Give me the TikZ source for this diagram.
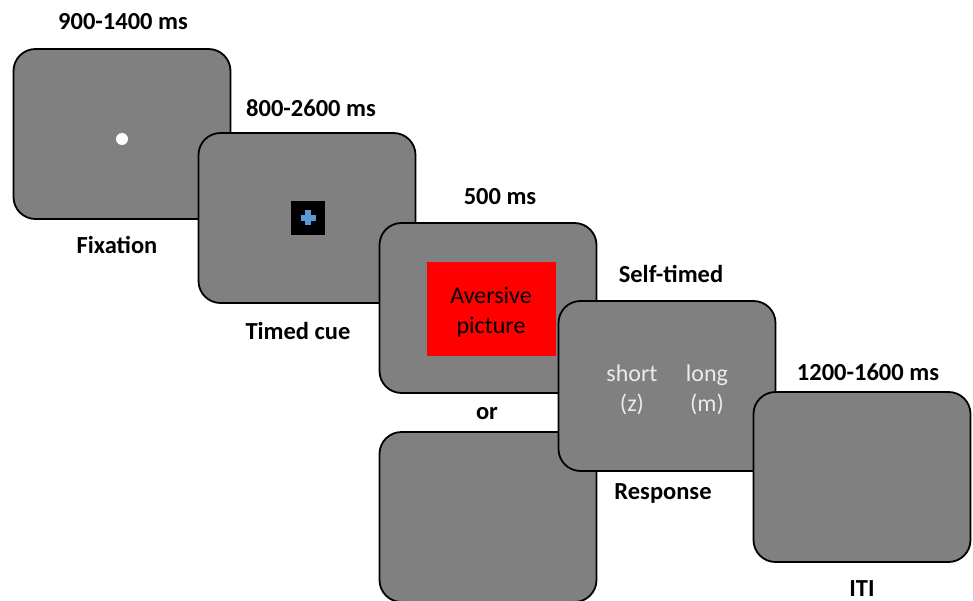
\documentclass[tikz,border=0pt]{standalone}
\usepackage{fontspec}
\setmainfont{Carlito}
\begin{document}
\begin{tikzpicture}[x=1pt,y=-1pt,
  screen/.style={draw=black,line width=1.8pt,fill=scrgrey,rounded corners=22pt,
    minimum width=217pt,minimum height=170pt,inner sep=0pt},
  lbl/.style={font=\fontsize{24.5}{28}\selectfont\bfseries,inner sep=0pt,text=black,
    text height=17pt,text depth=5pt},
  intext/.style={font=\fontsize{24}{28}\selectfont,inner sep=0pt,
    text height=17pt,text depth=5pt}]
\definecolor{scrgrey}{RGB}{128,128,128}
\definecolor{cueblue}{RGB}{91,155,213}
\definecolor{lighttext}{RGB}{235,235,235}
\useasboundingbox (0,0) rectangle (973,601);
% screens
\node[screen] (s1) at (122,134) {};
\node[screen] (s2) at (307,218) {};
\node[screen] (s3) at (488,308) {};
\node[screen] (s4) at (488,517) {};
\node[screen] (s5) at (667,386) {};
\node[screen] (s6) at (862,477) {};
% fixation dot
\node[circle,fill=white,minimum size=12pt,inner sep=0pt] (dot) at (122,139) {};
% cue
\node[fill=black,minimum size=34pt,inner sep=0pt] (cuebox) at (308,218) {};
\node[fill=cueblue,minimum width=6pt,minimum height=15pt,inner sep=0pt] (cv) at (308,218) {};
\node[fill=cueblue,minimum width=15pt,minimum height=6pt,inner sep=0pt] (ch) at (308,218) {};
% aversive picture
\node[fill=red,minimum width=129pt,minimum height=94pt,inner sep=0pt] (pic) at (491.5,309) {};
\node[intext,text=black] (av1) at (491,297) {Aversive};
\node[intext,text=black] (av2) at (491,327) {picture};
% response text
\node[intext,text=lighttext] (sh) at (632,375) {short};
\node[intext,text=lighttext] (z) at (632,405) {(z)};
\node[intext,text=lighttext] (lg) at (707,375) {long};
\node[intext,text=lighttext] (m) at (707,405) {(m)};
% labels
\node[lbl] (t1) at (123,24) {900-1400 ms};
\node[lbl] (l1) at (117,248) {Fixation};
\node[lbl] (t2) at (311,111) {800-2600 ms};
\node[lbl] (l2) at (298,333) {Timed cue};
\node[lbl] (t3) at (500,199) {500 ms};
\node[lbl] (or) at (487,413) {or};
\node[lbl] (t5) at (671,277) {Self-timed};
\node[lbl] (l5) at (663,493) {Response};
\node[lbl] (t6) at (868,374) {1200-1600 ms};
\node[lbl] (l6) at (862,590) {ITI};
\end{tikzpicture}
\end{document}
